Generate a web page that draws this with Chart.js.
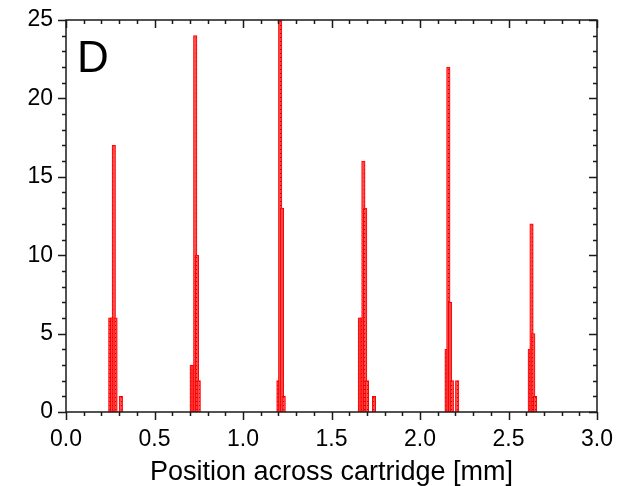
<!DOCTYPE html>
<html>
<head>
<meta charset="utf-8">
<script src="https://cdn.jsdelivr.net/npm/chart.js@4.4.1/dist/chart.umd.min.js"></script>
<style>
  body { margin: 0; background: #ffffff; }
  #wrap { width: 626px; height: 486px; }
</style>
</head>
<body>
<div id="wrap"><canvas id="histChart"></canvas></div>
<script>
// histogram bins (bin centre in mm) and counts
const binCenters = [
    0.25, 0.26, 0.27, 0.28, 0.31,
    0.71, 0.72, 0.73, 0.74, 0.75,
    1.20, 1.21, 1.22, 1.23,
    1.66, 1.67, 1.68, 1.69, 1.70, 1.74,
    2.15, 2.16, 2.17, 2.18, 2.21,
    2.62, 2.63, 2.64, 2.65
];
const binCounts = [
    6, 6, 17, 6, 1,
    3, 3, 24, 10, 2,
    2, 25, 13, 1,
    6, 6, 16, 13, 2, 1,
    4, 22, 7, 2, 2,
    4, 12, 5, 1
];
const xTickLabels = ['0.0', '0.5', '1.0', '1.5', '2.0', '2.5', '3.0'];
const yTickLabels = ['0', '5', '10', '15', '20', '25'];
const xTitle = 'Position across cartridge [mm]';
const panelLabel = 'D';

const FONT = "'Liberation Sans', Arial, sans-serif";

// dotted red fill like the original hatching
function makePattern() {
    const c = document.createElement('canvas');
    c.width = 3; c.height = 4;
    const g = c.getContext('2d');
    g.fillStyle = '#ff4848';
    g.fillRect(0, 0, 3, 4);
    g.fillStyle = '#d40000';
    g.fillRect(1, 1, 1, 1);
    return g.createPattern(c, 'repeat');
}

// frame, minor/major ticks on all four sides and the panel letter
const framePlugin = {
    id: 'frame',
    afterDraw(chart) {
        const { ctx, chartArea: a, scales: { x, y } } = chart;
        ctx.save();
        ctx.strokeStyle = '#1a1a1a';
        ctx.lineWidth = 1.5;
        ctx.strokeRect(a.left, a.top, a.right - a.left, a.bottom - a.top);
        ctx.beginPath();
        for (let i = 0; i <= 30; i++) {
            const px = Math.round(x.getPixelForValue(i / 10)) + 0.5;
            const len = i % 5 === 0 ? 8 : 4;
            ctx.moveTo(px, a.bottom); ctx.lineTo(px, a.bottom + len);
            ctx.moveTo(px, a.top); ctx.lineTo(px, a.top + len);
        }
        for (let j = 0; j <= 25; j++) {
            const py = Math.round(y.getPixelForValue(j)) + 0.5;
            const len = j % 5 === 0 ? 8 : 4;
            ctx.moveTo(a.left, py); ctx.lineTo(a.left - len, py);
            ctx.moveTo(a.right, py); ctx.lineTo(a.right - len, py);
        }
        ctx.stroke();
        ctx.fillStyle = '#000000';
        ctx.font = '44px ' + FONT;
        ctx.textAlign = 'left';
        ctx.textBaseline = 'alphabetic';
        ctx.fillText(panelLabel, a.left + 11, a.top + 52);
        ctx.restore();
    }
};

const ctx = document.getElementById('histChart').getContext('2d');
new Chart(ctx, {
    type: 'bar',
    data: {
        datasets: [{
            data: binCenters.map((c, i) => ({ x: c, y: binCounts[i] })),
            backgroundColor: makePattern(),
            borderColor: '#ff0000',
            borderWidth: 1,
            barThickness: 3.5,
            borderSkipped: 'bottom'
        }]
    },
    options: {
        responsive: true,
        maintainAspectRatio: false,
        animation: false,
        layout: { padding: { top: 20, right: 29, left: 0, bottom: 0 } },
        plugins: { legend: { display: false }, tooltip: { enabled: false } },
        scales: {
            x: {
                type: 'linear',
                min: 0, max: 3,
                offset: false,
                grid: { display: false, drawTicks: false, offset: false },
                border: { display: false },
                ticks: {
                    stepSize: 0.5,
                    padding: 14,
                    color: '#000000',
                    font: { family: FONT, size: 23 },
                    maxRotation: 0,
                    callback: (v) => xTickLabels[Math.round(v * 2)]
                },
                title: {
                    display: true,
                    text: xTitle,
                    color: '#000000',
                    font: { family: FONT, size: 27 },
                    padding: { top: 0, bottom: -3 }
                },
                afterFit: (s) => { s.height = 74; s.paddingLeft = 0; s.paddingRight = 0; }
            },
            y: {
                min: 0, max: 25,
                grid: { display: false, drawTicks: false },
                border: { display: false },
                ticks: {
                    stepSize: 5,
                    padding: 13,
                    color: '#000000',
                    font: { family: FONT, size: 23 },
                    callback: (v) => yTickLabels[Math.round(v / 5)]
                },
                afterFit: (s) => { s.width = 66; s.paddingTop = 0; s.paddingBottom = 0; }
            }
        }
    },
    plugins: [framePlugin]
});
</script>
</body>
</html>
